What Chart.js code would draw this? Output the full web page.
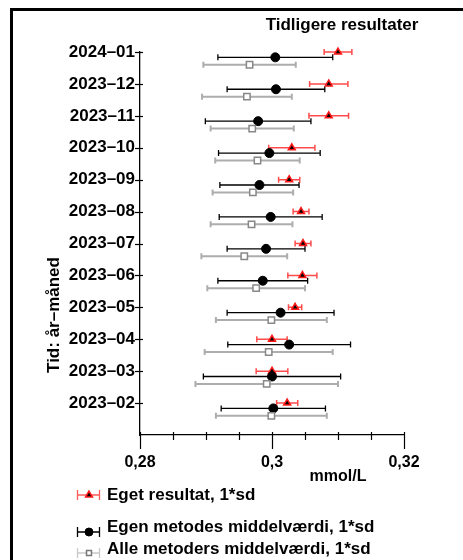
<!DOCTYPE html>
<html>
<head>
<meta charset="utf-8">
<script src="https://cdn.jsdelivr.net/npm/chart.js@4"></script>
<style>
  html, body { margin: 0; padding: 0; background: #fff; }
  #wrap { width: 463px; height: 560px; }
</style>
</head>
<body>
<div id="wrap"><canvas id="chart" width="463" height="560"></canvas></div>
<script>
// months, oldest first (index 0 at the bottom)
var months = ['2023–02', '2023–03', '2023–04', '2023–05', '2023–06', '2023–07',
              '2023–08', '2023–09', '2023–10', '2023–11', '2023–12', '2024–01'];

// own result, 1*sd
var ownValue = [0.3023, 0.3000, 0.3000, 0.3035, 0.3046, 0.3047, 0.3044, 0.3026, 0.3030, 0.3086, 0.3086, 0.3100];
var ownSd    = [0.0016, 0.0024, 0.0023, 0.0010, 0.0022, 0.0012, 0.0012, 0.0016, 0.0035, 0.0030, 0.0029, 0.0021];

// own method mean, 1*sd
var methodValue = [0.3002, 0.3000, 0.3026, 0.3013, 0.2986, 0.2991, 0.2998, 0.2981, 0.2996, 0.2979, 0.3006, 0.3005];
var methodSd    = [0.0079, 0.0104, 0.0093, 0.0081, 0.0068, 0.0059, 0.0078, 0.0060, 0.0077, 0.0080, 0.0074, 0.0087];

// all methods mean, 1*sd
var allValue = [0.2999, 0.2992, 0.2995, 0.2999, 0.2976, 0.2958, 0.2969, 0.2971, 0.2978, 0.2970, 0.2962, 0.2966];
var allSd    = [0.0084, 0.0108, 0.0097, 0.0084, 0.0074, 0.0065, 0.0062, 0.0061, 0.0064, 0.0063, 0.0068, 0.0070];

var xTicks = [0.28, 0.285, 0.29, 0.295, 0.30, 0.305, 0.31, 0.315, 0.32];
var xLabels = {'0.28': '0,28', '0.3': '0,3', '0.32': '0,32'};

var FONT = '"Liberation Sans", Arial, sans-serif';

function pts(values, shift) {
    return values.map(function (v, i) { return {x: v, y: i + shift}; });
}

// legend order (top to bottom); drawn in reverse so red ends on top
var series = [
    {label: 'Eget resultat, 1*sd', values: ownValue, sd: ownSd, shift: 0,
     bar: 'rgba(255,30,30,0.8)', barWidth: 1.5, legendBar: 'rgba(255,50,50,0.8)',
     style: 'triangle', radius: 4, bg: '#000', border: '#ff1a1a', borderWidth: 1.5},
    {label: 'Egen metodes middelværdi, 1*sd', values: methodValue, sd: methodSd, shift: -0.167,
     bar: '#000', barWidth: 1.3, legendBar: '#000',
     style: 'circle', radius: 4.5, bg: '#000', border: '#000', borderWidth: 1},
    {label: 'Alle metoders middelværdi, 1*sd', values: allValue, sd: allSd, shift: -0.4,
     bar: '#adadad', barWidth: 2, legendBar: '#c8c8c8',
     style: 'rect', radius: 4.5, bg: '#fff', border: '#888', borderWidth: 1.5}
];

function dsIndex(i) { return series.length - 1 - i; }

var errorBars = {
    id: 'errorBars',
    beforeDatasetsDraw: function (chart) {
        var ctx = chart.ctx, xs = chart.scales.x;
        ctx.save();
        series.slice().reverse().forEach(function (s) {
            var meta = chart.getDatasetMeta(dsIndex(series.indexOf(s)));
            ctx.strokeStyle = s.bar;
            ctx.lineWidth = s.barWidth;
            meta.data.forEach(function (el, i) {
                var x1 = xs.getPixelForValue(s.values[i] - s.sd[i]);
                var x2 = xs.getPixelForValue(s.values[i] + s.sd[i]);
                var y = el.y;
                ctx.beginPath();
                ctx.moveTo(x1, y); ctx.lineTo(x2, y);
                ctx.moveTo(x1, y - 3); ctx.lineTo(x1, y + 3);
                ctx.moveTo(x2, y - 3); ctx.lineTo(x2, y + 3);
                ctx.stroke();
            });
        });
        ctx.restore();
    },
    afterDraw: function (chart) {
        var ctx = chart.ctx, xs = chart.scales.x, ys = chart.scales.y;
        var axisY = chart.chartArea.bottom, axisX = chart.chartArea.left;
        ctx.save();
        // frame
        ctx.strokeStyle = '#000';
        ctx.lineWidth = 3;
        ctx.strokeRect(11.5, 9.5, 520, 600);

        // tick marks
        ctx.lineWidth = 1.2;
        xTicks.forEach(function (v) {
            var px = Math.round(xs.getPixelForValue(v)) + 0.5;
            var major = xLabels[String(+v.toFixed(3))] !== undefined;
            ctx.beginPath();
            ctx.moveTo(px, axisY - 3);
            ctx.lineTo(px, axisY + (major ? 14 : 5));
            ctx.stroke();
        });
        months.forEach(function (m, i) {
            var py = Math.round(ys.getPixelForValue(i)) + 0.5;
            ctx.beginPath();
            ctx.moveTo(axisX - 5, py);
            ctx.lineTo(axisX + 3, py);
            ctx.stroke();
        });

        // texts
        ctx.fillStyle = '#000';
        ctx.textAlign = 'center';
        ctx.textBaseline = 'middle';
        ctx.font = 'bold 17px ' + FONT;
        ctx.fillText('Tidligere resultater', 342, 25);
        ctx.font = 'bold 16px ' + FONT;
        ctx.fillText('mmol/L', 338, 477);

        ctx.save();
        ctx.translate(54, 315);
        ctx.rotate(-Math.PI / 2);
        ctx.font = 'bold 17px ' + FONT;
        ctx.fillText('Tid: år–måned', 0, 0);
        ctx.restore();

        // legend
        var rows = [{bar: 495, text: 495}, {bar: 532, text: 527}, {bar: 553, text: 549}];
        ctx.font = 'bold 17px ' + FONT;
        series.forEach(function (s, i) {
            var y = rows[i].bar;
            ctx.strokeStyle = s.legendBar;
            ctx.lineWidth = 1.3;
            ctx.beginPath();
            ctx.moveTo(77, y); ctx.lineTo(100, y);
            ctx.moveTo(77.5, y - 5); ctx.lineTo(77.5, y + 5);
            ctx.moveTo(99.5, y - 5); ctx.lineTo(99.5, y + 5);
            ctx.stroke();
            ctx.fillStyle = s.bg;
            ctx.strokeStyle = i === 2 ? '#777' : s.border;
            ctx.lineWidth = s.borderWidth;
            Chart.helpers.drawPoint(ctx, {
                pointStyle: s.style, radius: i === 2 ? 3.5 : 4, rotation: 0,
                borderWidth: s.borderWidth
            }, 89, y);
            ctx.fillStyle = '#000';
            ctx.textAlign = 'left';
            ctx.fillText(s.label, 107, rows[i].text);
        });
        ctx.restore();
    }
};

var datasets = series.map(function (s) {
    return {
        label: s.label,
        data: pts(s.values, s.shift),
        pointStyle: s.style,
        pointRadius: s.radius,
        pointBackgroundColor: s.bg,
        pointBorderColor: s.border,
        pointBorderWidth: s.borderWidth,
        showLine: false,
        clip: false
    };
}).reverse();

new Chart(document.getElementById('chart'), {
    type: 'scatter',
    data: {datasets: datasets},
    plugins: [errorBars],
    options: {
        responsive: false,
        animation: false,
        events: [],
        layout: {padding: {left: 0, right: 59, top: 52, bottom: 0}},
        plugins: {
            legend: {display: false},
            title: {display: false},
            tooltip: {enabled: false}
        },
        scales: {
            x: {
                type: 'linear',
                min: 0.28,
                max: 0.32,
                afterBuildTicks: function (scale) {
                    scale.ticks = xTicks.map(function (v) { return {value: v}; });
                },
                afterFit: function (scale) { scale.height = 125; },
                grid: {display: false, drawTicks: false},
                border: {display: true, color: '#000', width: 1.3},
                ticks: {
                    autoSkip: false,
                    maxRotation: 0,
                    padding: 18,
                    color: '#000',
                    font: {family: FONT, size: 16, weight: 'bold'},
                    callback: function (v) {
                        var key = String(+Number(v).toFixed(3));
                        return xLabels[key] !== undefined ? xLabels[key] : '';
                    }
                }
            },
            y: {
                type: 'linear',
                min: -1,
                max: 11,
                afterBuildTicks: function (scale) {
                    scale.ticks = months.map(function (m, i) { return {value: i}; });
                },
                afterFit: function (scale) { scale.width = 140; },
                grid: {display: false, drawTicks: false},
                border: {display: true, color: '#000', width: 1.3},
                ticks: {
                    autoSkip: false,
                    padding: 5,
                    color: '#000',
                    font: {family: FONT, size: 17, weight: 'bold'},
                    callback: function (v) { return months[v] || ''; }
                }
            }
        }
    }
});
</script>
</body>
</html>
